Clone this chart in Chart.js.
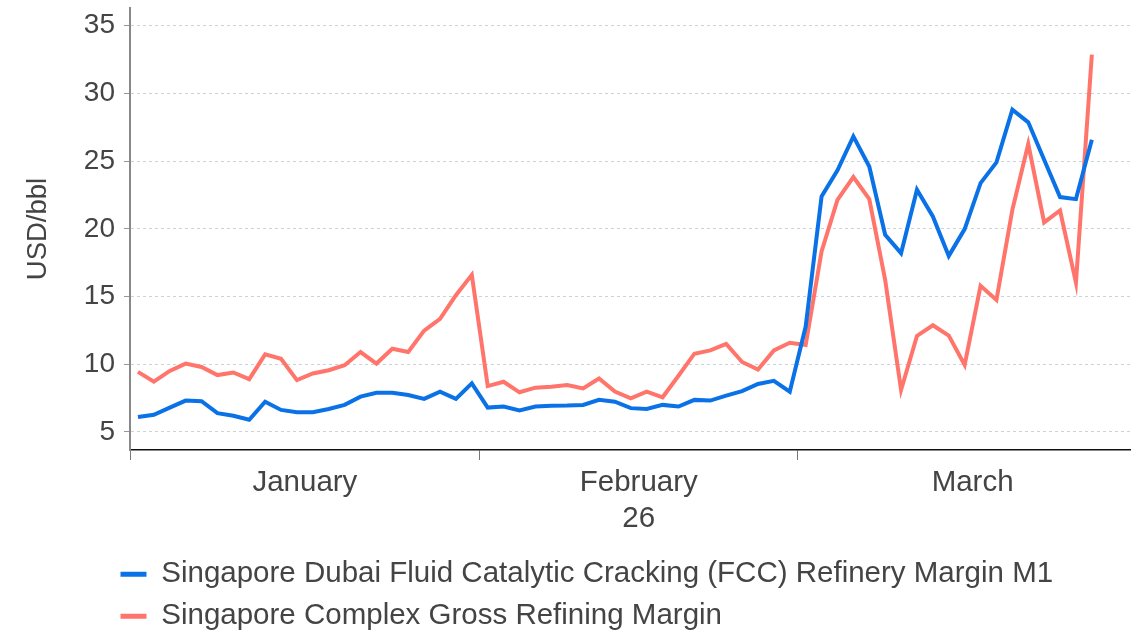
<!DOCTYPE html>
<html>
<head>
<meta charset="utf-8">
<title>Singapore refining margins</title>
<script src="https://cdn.jsdelivr.net/npm/chart.js@4.4.1/dist/chart.umd.min.js"></script>
<style>
  html, body { margin: 0; padding: 0; background: #fff; }
  #wrap { width: 1140px; height: 631px; }
</style>
</head>
<body>
<div id="wrap"><canvas id="marginChart"></canvas></div>
<script>
// business days, Jan - Mar 2026
const dates = [
    '2026-01-01', '2026-01-02', '2026-01-05', '2026-01-06', '2026-01-07', '2026-01-08', '2026-01-09',
    '2026-01-12', '2026-01-13', '2026-01-14', '2026-01-15', '2026-01-16', '2026-01-19', '2026-01-20',
    '2026-01-21', '2026-01-22', '2026-01-23', '2026-01-26', '2026-01-27', '2026-01-28', '2026-01-29',
    '2026-01-30', '2026-02-02', '2026-02-03', '2026-02-04', '2026-02-05', '2026-02-06', '2026-02-09',
    '2026-02-10', '2026-02-11', '2026-02-12', '2026-02-13', '2026-02-16', '2026-02-17', '2026-02-18',
    '2026-02-19', '2026-02-20', '2026-02-23', '2026-02-24', '2026-02-25', '2026-02-26', '2026-02-27',
    '2026-03-02', '2026-03-03', '2026-03-04', '2026-03-05', '2026-03-06', '2026-03-09', '2026-03-10',
    '2026-03-11', '2026-03-12', '2026-03-13', '2026-03-16', '2026-03-17', '2026-03-18', '2026-03-19',
    '2026-03-20', '2026-03-23', '2026-03-24', '2026-03-25', '2026-03-26'
];

const fccMargin = [
    6.10, 6.27, 6.80, 7.32, 7.27, 6.39, 6.20, 5.90, 7.24, 6.63,
    6.46, 6.46, 6.70, 7.00, 7.61, 7.90, 7.90, 7.73, 7.44, 7.98,
    7.44, 8.59, 6.80, 6.88, 6.59, 6.88, 6.93, 6.95, 7.00, 7.37,
    7.24, 6.76, 6.70, 7.00, 6.88, 7.37, 7.32, 7.68, 8.02, 8.54,
    8.78, 7.98, 12.78, 22.39, 24.31, 26.82, 24.60, 19.56, 18.20, 22.88,
    20.91, 18.00, 19.98, 23.37, 24.90, 28.79, 27.86, 25.10, 22.34, 22.19,
    26.58
];

const complexMargin = [
    9.44, 8.71, 9.51, 10.05, 9.80, 9.20, 9.39, 8.90, 10.73, 10.41,
    8.83, 9.32, 9.56, 9.93, 10.90, 10.05, 11.15, 10.90, 12.48, 13.35,
    15.10, 16.60, 8.39, 8.71, 7.93, 8.27, 8.34, 8.46, 8.22, 8.95,
    7.98, 7.49, 7.98, 7.56, 9.15, 10.78, 11.02, 11.50, 10.17, 9.61,
    11.02, 11.59, 11.43, 18.33, 22.14, 23.82, 22.19, 16.23, 8.10, 12.09,
    12.88, 12.12, 9.95, 15.79, 14.75, 21.40, 26.26, 20.47, 21.35, 16.03,
    32.86
];

const monthNames = ['January', 'February', 'March'];
const yearLabel = '26';
const yTicks = [5, 10, 15, 20, 25, 30, 35];

const blue = '#0a72e6';
const red = '#ff756b';
const textColor = '#444444';
const fontFamily = '"Liberation Sans", Arial, sans-serif';

function weekdaysInMonth(year, month) {
    let n = 0;
    const d = new Date(Date.UTC(year, month, 1));
    while (d.getUTCMonth() === month) {
        const wd = d.getUTCDay();
        if (wd > 0 && wd < 6) n++;
        d.setUTCDate(d.getUTCDate() + 1);
    }
    return n;
}

// month boundaries and label positions, in business-day index units
const monthStarts = [];
const monthCentres = [];
dates.forEach(function(s, i) {
    const m = Number(s.slice(5, 7)) - 1;
    if (i === 0 || Number(dates[i - 1].slice(5, 7)) - 1 !== m) {
        const start = i - 0.5;
        monthStarts.push(start);
        monthCentres.push(start + weekdaysInMonth(Number(s.slice(0, 4)), m) / 2);
    }
});

function toPoints(values) {
    return values.map(function(v, i) { return { x: i, y: v }; });
}

const legendShift = {
    id: 'legendShift',
    afterLayout(chart) {
        chart.legend.left = 108;
        chart.legend.top += 10;
    }
};

document.addEventListener('DOMContentLoaded', function() {
    const ctx = document.getElementById('marginChart').getContext('2d');

    new Chart(ctx, {
        type: 'line',
        data: {
            datasets: [{
                label: 'Singapore Dubai Fluid Catalytic Cracking (FCC) Refinery Margin M1',
                data: toPoints(fccMargin),
                borderColor: blue,
                backgroundColor: blue,
                borderWidth: 4,
                pointRadius: 0,
                tension: 0
            }, {
                label: 'Singapore Complex Gross Refining Margin',
                data: toPoints(complexMargin),
                borderColor: red,
                backgroundColor: red,
                borderWidth: 4,
                pointRadius: 0,
                tension: 0
            }]
        },
        options: {
            responsive: true,
            maintainAspectRatio: false,
            animation: false,
            layout: { padding: { top: 8, right: 10, left: 0, bottom: 0 } },
            plugins: {
                tooltip: { enabled: false },
                legend: {
                    display: true,
                    position: 'bottom',
                    align: 'start',
                    labels: {
                        boxWidth: 26,
                        boxHeight: 5,
                        padding: 12.5,
                        color: textColor,
                        font: { family: fontFamily, size: 29.5 },
                        generateLabels(chart) {
                            return chart.data.datasets.map(function(ds, i) {
                                return {
                                    text: ds.label,
                                    fillStyle: ds.borderColor,
                                    strokeStyle: ds.borderColor,
                                    lineWidth: 0,
                                    fontColor: textColor,
                                    hidden: false,
                                    datasetIndex: i
                                };
                            });
                        }
                    }
                }
            },
            scales: {
                x: {
                    type: 'linear',
                    min: -0.5,
                    max: 62.4,
                    afterBuildTicks(scale) {
                        scale.ticks = monthStarts.concat(monthCentres)
                            .sort(function(a, b) { return a - b; })
                            .map(function(v) { return { value: v }; });
                    },
                    afterFit(scale) {
                        scale.height = 631 - 450 - scale.chart.legend.height;
                        scale.paddingLeft = 0;
                        scale.paddingRight = 0;
                    },
                    ticks: {
                        autoSkip: false,
                        maxRotation: 0,
                        padding: 4,
                        color: textColor,
                        font: { family: fontFamily, size: 29.5, lineHeight: 1.25 },
                        callback(value) {
                            const k = monthCentres.indexOf(value);
                            if (k < 0) return '';
                            return k === 1 ? [monthNames[k], yearLabel] : monthNames[k];
                        }
                    },
                    grid: {
                        drawOnChartArea: false,
                        tickLength: 10,
                        tickWidth: 1,
                        tickColor(c) {
                            return monthStarts.indexOf(c.tick.value) >= 0 ? '#777' : 'rgba(0,0,0,0)';
                        }
                    },
                    border: { color: '#111', width: 1.5 }
                },
                y: {
                    min: 3.67,
                    max: 36.3,
                    afterBuildTicks(scale) {
                        scale.ticks = yTicks.map(function(v) { return { value: v }; });
                    },
                    afterFit(scale) {
                        scale.width = 130;
                        scale.paddingTop = 0;
                        scale.paddingBottom = 0;
                    },
                    ticks: {
                        padding: 9,
                        color: textColor,
                        font: { family: fontFamily, size: 28 }
                    },
                    grid: {
                        color: '#c9d3da',
                        lineWidth: 1,
                        tickLength: 6,
                        tickColor: '#999',
                        tickBorderDash: []
                    },
                    border: { color: '#888', width: 2, dash: [3, 3] },
                    title: {
                        display: true,
                        text: 'USD/bbl',
                        color: textColor,
                        padding: { top: 22, bottom: 0 },
                        font: { family: fontFamily, size: 27.5 }
                    }
                }
            }
        },
        plugins: [legendShift]
    });
});
</script>
</body>
</html>
